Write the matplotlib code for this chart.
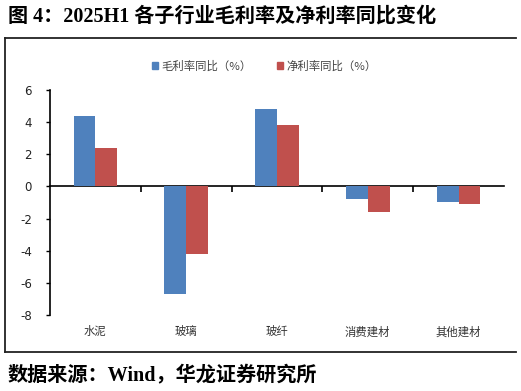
import matplotlib
matplotlib.use("Agg")
import matplotlib.pyplot as plt
import numpy as np
from matplotlib.lines import Line2D
from matplotlib.patches import Patch

plt.rcParams['font.family'] = ['Noto Sans CJK SC', 'DejaVu Sans']
plt.rcParams['axes.unicode_minus'] = False

categories = ['水泥', '玻璃', '玻纤', '消费建材', '其他建材']
gross_margin_yoy = [4.4, -6.7, 4.8, -0.8, -0.98]
net_margin_yoy = [2.4, -4.22, 3.83, -1.6, -1.07]
series_names = ['毛利率同比（%）', '净利率同比（%）']
yticks = [6, 4, 2, 0, -2, -4, -6, -8]

blue = '#4F81BD'
red = '#C0504D'

W, H = 521, 391
fig = plt.figure(figsize=(W / 100, H / 100), dpi=100)

ax = fig.add_axes([50 / W, (H - 315) / H, (504 - 50) / W, (315 - 90) / H])
x = np.arange(len(categories))
bw = 0.24
ax.bar(x - bw / 2, gross_margin_yoy, bw, color=blue, label=series_names[0], zorder=2)
ax.bar(x + bw / 2, net_margin_yoy, bw, color=red, label=series_names[1], zorder=2)

ax.set_xlim(-0.5, len(categories) - 0.5)
ax.set_ylim(-8, 6)
ax.set_yticks(yticks)
ax.set_yticklabels([str(v) for v in yticks], fontsize=8.5, family=['DejaVu Sans'], color='#222222')
ax.tick_params(axis='y', direction='out', length=3, width=1, pad=10, color='black')

ax.set_xticks(x)
ax.set_xticklabels(categories, fontsize=8.2, color='#333333')
ax.tick_params(axis='x', length=0, pad=8)

for s in ['top', 'right', 'bottom']:
    ax.spines[s].set_visible(False)
ax.spines['left'].set_linewidth(1.2)

sec = ax.secondary_xaxis(0, transform=ax.transData)
sec.set_xticks(np.arange(0.5, len(categories) - 1, 1.0))
sec.tick_params(axis='x', direction='out', length=4, width=1.2, labelbottom=False)
sec.spines['bottom'].set_linewidth(1.2)
sec.spines['bottom'].set_zorder(3)

handles = [Patch(color=blue), Patch(color=red)]
fig.legend(handles, series_names, loc='center', bbox_to_anchor=(264 / W, 1 - 66 / H),
           ncol=2, frameon=False, fontsize=8.2, handlelength=0.55, handleheight=0.55,
           handletextpad=0.3, columnspacing=2.2, labelcolor='#444444')

# frame
lw = 1.3
fig.add_artist(Line2D([5 / W, 5 / W], [1 - 38 / H, 1 - 352 / H], color='#222222', lw=lw))
fig.add_artist(Line2D([5 / W, 516 / W], [1 - 38 / H, 1 - 38 / H], color='#222222', lw=lw))
fig.add_artist(Line2D([5 / W, 516 / W], [1 - 352 / H, 1 - 352 / H], color='#222222', lw=lw))

fam = ['Liberation Serif', 'Noto Sans CJK SC']
fig.text(8 / W, 1 - 17 / H, '图 4：2025H1 各子行业毛利率及净利率同比变化', fontsize=14.5,
         fontweight='bold', family=fam, va='center', ha='left')
fig.text(8 / W, 1 - 375 / H, '数据来源：Wind，华龙证券研究所', fontsize=14.5,
         fontweight='bold', family=fam, va='center', ha='left')

fig.savefig('out.png', dpi=100)
